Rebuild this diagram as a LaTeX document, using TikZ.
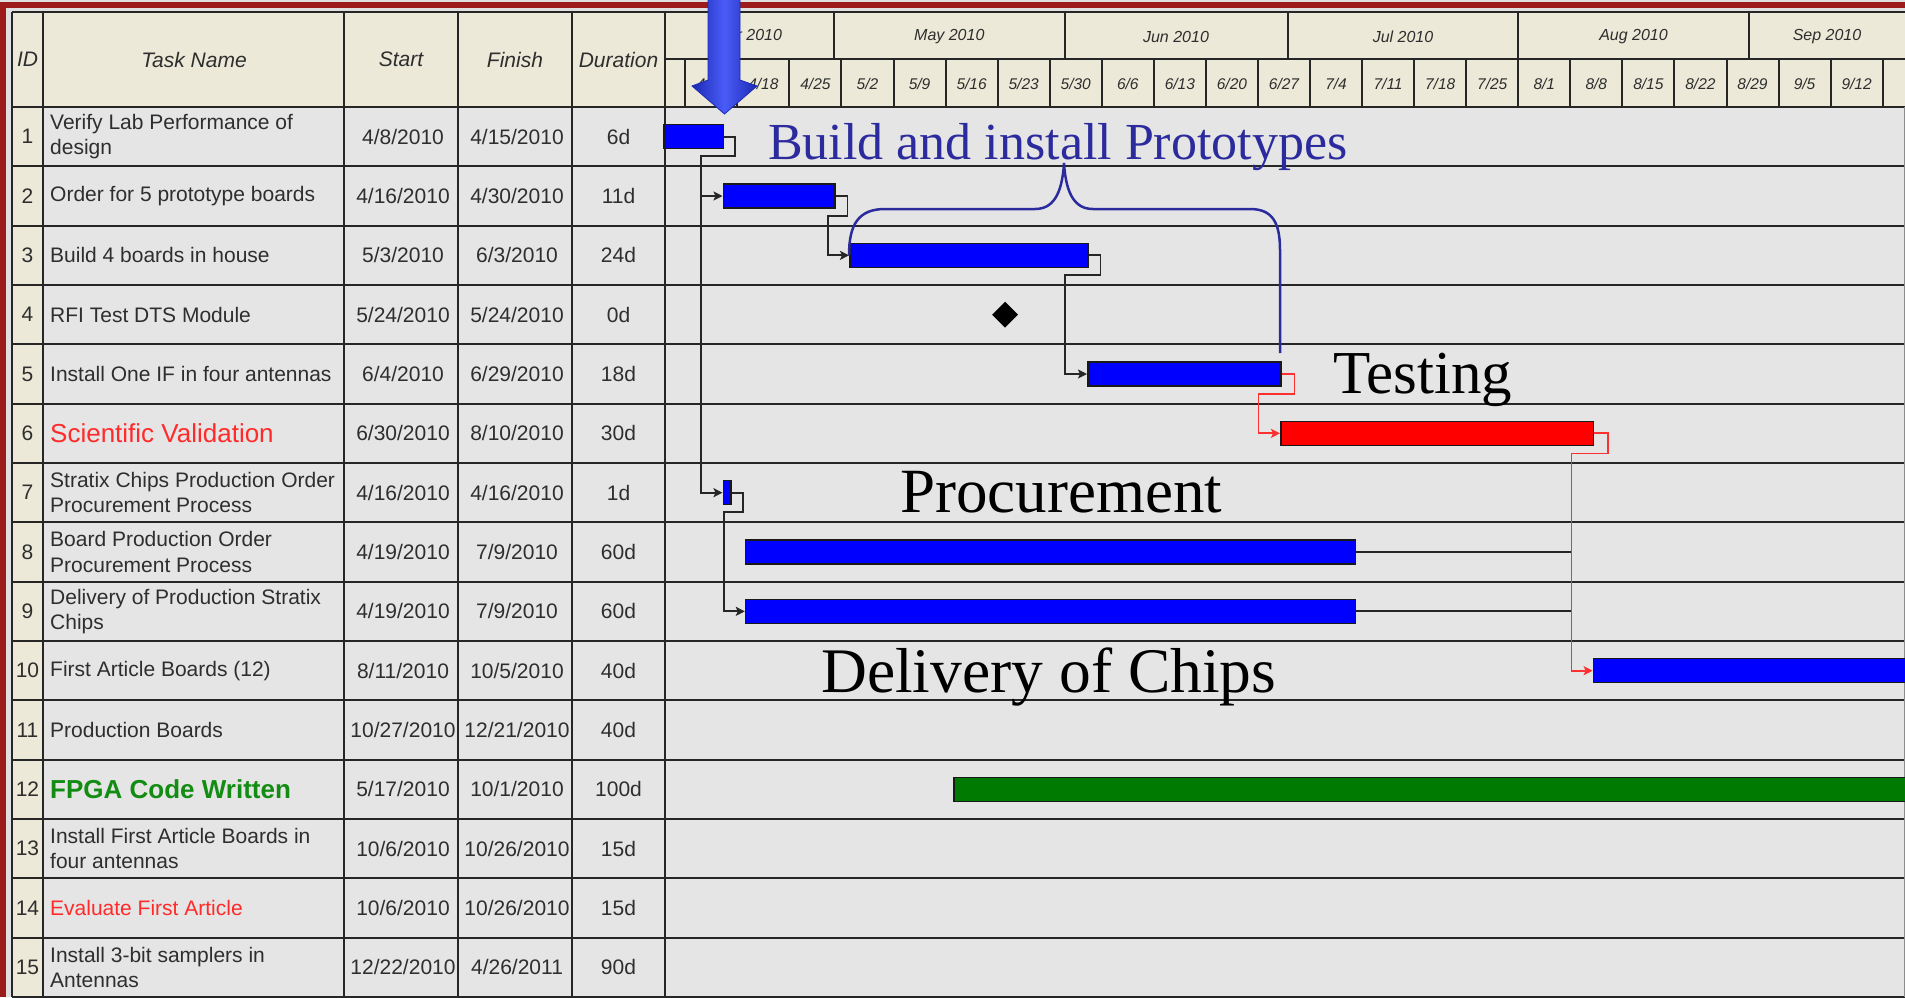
\documentclass[tikz,border=0pt]{standalone}
\usepackage{fontspec}
\newfontfamily\tabfont{Liberation Sans}
\newfontfamily\annfont{Liberation Serif}
\usetikzlibrary{shapes.geometric,arrows.meta}
\definecolor{hdrbg}{HTML}{ECE9D8}
\definecolor{rowbg}{HTML}{E5E5E5}
\definecolor{pagebg}{HTML}{E0E0E0}
\definecolor{gridc}{HTML}{262626}
\definecolor{txt}{HTML}{2E2E2E}
\definecolor{barblue}{HTML}{0000FF}
\definecolor{barred}{HTML}{FF0000}
\definecolor{bargreen}{HTML}{007A00}
\definecolor{navy}{HTML}{2B2B9E}
\definecolor{linkred}{HTML}{FF3030}
\definecolor{framered}{HTML}{9C1C1C}
\definecolor{namered}{HTML}{FF2A2A}
\definecolor{namegreen}{HTML}{128C12}
\definecolor{arrdark}{HTML}{1C2AB4}
\definecolor{arrlight}{HTML}{4A5CF8}

\newcommand{\taskrow}[6]{%
  \node[idtxt] (id#1) at (27.5,{107+(#1-0.5)*59.333}) {#1};
  \node[nametxt,#6] (nm#1) at (50,{107+(#1-0.5)*59.333}) {#2};
  \node[celltxt] (st#1) at (403,{107+(#1-0.5)*59.333}) {#3};
  \node[celltxt] (fi#1) at (517,{107+(#1-0.5)*59.333}) {#4};
  \node[celltxt] (du#1) at (618.5,{107+(#1-0.5)*59.333}) {#5};
}

\begin{document}
\begin{tikzpicture}[x=1pt,y=-1pt,
  gridline/.style={draw=gridc,line width=2pt},
  idtxt/.style={inner sep=0,font=\tabfont\fontsize{21}{25.5}\selectfont,text=txt},
  celltxt/.style={inner sep=0,font=\tabfont\fontsize{21}{25.5}\selectfont,text=txt},
  nametxt/.style={anchor=west,inner sep=0,align=left,font=\tabfont\fontsize{21}{25.5}\selectfont,text=txt},
  hdrtxt/.style={inner sep=0,font=\tabfont\itshape\fontsize{21}{25.5}\selectfont,text=txt},
  wktxt/.style={inner sep=0,font=\tabfont\itshape\fontsize{15.5}{18}\selectfont,text=txt},
  mthtxt/.style={inner sep=0,font=\tabfont\itshape\fontsize{16}{18}\selectfont,text=txt},
  ganttbar/.style={anchor=west,rectangle,draw=black!90,line width=1.5pt,minimum height=24pt,inner sep=0,fill=barblue},
  deplink/.style={draw=black!85,line width=1.8pt,-{Stealth[length=9pt,width=9pt,inset=2pt]}},
  redlink/.style={draw=linkred,line width=1.8pt,-{Stealth[length=9pt,width=9pt,inset=2pt]}},
  plainlink/.style={draw=black!85,line width=1.8pt},
  anntxt/.style={inner sep=0,anchor=base west}
]
\useasboundingbox (0,0) rectangle (1905,997);
% page and frame
\fill[pagebg] (0,0) rectangle (1905,997);
\fill[framered] (0,2) rectangle (1905,8);
\fill[framered] (0,2) rectangle (6,997);
% cell backgrounds
\fill[hdrbg] (12,12) rectangle (1905,107);
\fill[rowbg] (43,107) rectangle (1905,997);
\fill[hdrbg] (12,107) rectangle (43,997);
% grid
\draw[gridline] (12,12) -- (1905,12);
\foreach \k in {0,...,15} \draw[gridline] (12,{107+\k*59.333}) -- (1905,{107+\k*59.333});
\foreach \xx in {12,43,344,458,572,665} \draw[gridline] (\xx,12) -- (\xx,997);
\draw[gridline] (665,59) -- (1905,59);
\foreach \xx in {834,1064.6,1287.7,1518.3,1748.8} \draw[gridline] (\xx,12) -- (\xx,59);
\foreach \k in {0,...,23} \draw[gridline] ({685.3+\k*52.06},59) -- ({685.3+\k*52.06},107);
\draw[draw=black!45,line width=1pt] (1904,107) -- (1904,997);
% header texts
\node[hdrtxt] (hid) at (27.5,59.5) {ID};
\node[hdrtxt] (hname) at (194,59.5) {Task Name};
\node[hdrtxt] (hstart) at (401,59.5) {Start};
\node[hdrtxt] (hfinish) at (515,59.5) {Finish};
\node[hdrtxt] (hdur) at (618.5,59.5) {Duration};
\node[mthtxt] (mapr) at (749.5,36.5) {Apr 2010};
\node[mthtxt] (mmay) at (949.3,36.5) {May 2010};
\node[mthtxt] (mjun) at (1176,36.5) {Jun 2010};
\node[mthtxt] (mjul) at (1403,36.5) {Jul 2010};
\node[mthtxt] (maug) at (1633.5,36.5) {Aug 2010};
\node[mthtxt] (msep) at (1827,36.5) {Sep 2010};
\foreach \w [count=\k from 0] in {4/11,4/18,4/25,5/2,5/9,5/16,5/23,5/30,6/6,6/13,6/20,6/27,7/4,7/11,7/18,7/25,8/1,8/8,8/15,8/22,8/29,9/5,9/12}
  \node[wktxt] (wk\k) at ({711.3+\k*52.06},84) {\w};
% table rows
\taskrow{1}{Verify Lab Performance of\\design}{4/8/2010}{4/15/2010}{6d}{}
\taskrow{2}{Order for 5 prototype boards}{4/16/2010}{4/30/2010}{11d}{}
\taskrow{3}{Build 4 boards in house}{5/3/2010}{6/3/2010}{24d}{}
\taskrow{4}{RFI Test DTS Module}{5/24/2010}{5/24/2010}{0d}{}
\taskrow{5}{Install One IF in four antennas}{6/4/2010}{6/29/2010}{18d}{}
\taskrow{6}{Scientific Validation}{6/30/2010}{8/10/2010}{30d}{font=\tabfont\fontsize{26}{30}\selectfont,text=namered}
\taskrow{7}{Stratix Chips Production Order\\Procurement Process}{4/16/2010}{4/16/2010}{1d}{}
\taskrow{8}{Board Production Order\\Procurement Process}{4/19/2010}{7/9/2010}{60d}{}
\taskrow{9}{Delivery of Production Stratix\\Chips}{4/19/2010}{7/9/2010}{60d}{}
\taskrow{10}{First Article Boards (12)}{8/11/2010}{10/5/2010}{40d}{}
\taskrow{11}{Production Boards}{10/27/2010}{12/21/2010}{40d}{}
\taskrow{12}{FPGA Code Written}{5/17/2010}{10/1/2010}{100d}{font=\tabfont\bfseries\fontsize{26}{30}\selectfont,text=namegreen}
\taskrow{13}{Install First Article Boards in\\four antennas}{10/6/2010}{10/26/2010}{15d}{}
\taskrow{14}{Evaluate First Article}{10/6/2010}{10/26/2010}{15d}{text=namered}
\taskrow{15}{Install 3-bit samplers in\\Antennas}{12/22/2010}{4/26/2011}{90d}{}
% bars
\node[ganttbar,minimum width=59.5pt] (b1) at (663,136.67) {};
\node[ganttbar,minimum width=111.5pt] (b2) at (722.5,196) {};
\node[ganttbar,minimum width=238pt] (b3) at (849,255.33) {};
\node[diamond,aspect=1,fill=black,minimum width=26pt,minimum height=26pt,inner sep=0] (ms4) at (1005,314.67) {};
\node[ganttbar,minimum width=193pt] (b5) at (1087,374) {};
\node[ganttbar,minimum width=312.6pt,fill=barred] (b6) at (1280,433.33) {};
\node[ganttbar,minimum width=7.5pt] (b7) at (722.5,492.67) {};
\node[ganttbar,minimum width=610pt] (b8) at (744.8,552) {};
\node[ganttbar,minimum width=610pt] (b9) at (744.8,611.33) {};
\node[ganttbar,minimum width=330pt] (b10) at (1592.6,670.67) {};
\node[ganttbar,minimum width=970pt,fill=bargreen] (b12) at (953,789.33) {};
% links
\coordinate (j1) at (701,156);
\coordinate (j2) at (828,216);
\coordinate (j3) at (1065,275);
\coordinate (j5) at (1258.5,394);
\coordinate (j6) at (1571.4,453.5);
\coordinate (j7) at (723.7,512);
\draw[deplink] (b1.east) -- ++(11,0) |- (j1) |- (b2.west);
\draw[deplink] (j1) |- (b7.west);
\draw[deplink] (b2.east) -- ++(12,0) |- (j2) |- (b3.west);
\draw[deplink] (b3.east) -- ++(12,0) |- (j3) |- (b5.west);
\draw[deplink] (b7.east) -- ++(11.5,0) |- (j7) |- (b9.west);
\draw[redlink] (b5.east) -- ++(13,0) |- (j5) |- (b6.west);
\draw[redlink] (b6.east) -- ++(14,0) |- (j6) |- (b10.west);
\draw[plainlink] (b8.east) -- (b8.east -| j6);
\draw[plainlink] (b9.east) -- (b9.east -| j6);
% annotations
\coordinate (brtip) at (1064,163);
\coordinate (brend) at (1280,353);
\draw[navy,line width=2.5pt] (b3.west) .. controls (849,225) and (858,209) .. (885,209) -- (1035,209)
  .. controls (1052,209) and (1062,196) .. (brtip)
  .. controls (1066,196) and (1076,209) .. (1093,209) -- (1250,209)
  .. controls (1272,209) and (1280,222) .. (1280,250) -- (brend);
\node[anntxt,text=navy,font=\annfont\fontsize{52}{52}\selectfont] (tproto) at (768,159) {Build and install Prototypes};
\node[anntxt,text=black,font=\annfont\fontsize{61}{61}\selectfont] (ttest) at (1333,393) {Testing};
\node[anntxt,text=black,font=\annfont\fontsize{63}{63}\selectfont] (tproc) at (900,512.7) {Procurement};
\node[anntxt,text=black,font=\annfont\fontsize{63.5}{63.5}\selectfont] (tdeliv) at (821,692.7) {Delivery of Chips};
% big arrow
\shade[left color=arrdark,right color=arrdark,middle color=arrlight,draw=arrdark,line width=0.8pt]
  (708,-2) -- (740,-2) -- (740,80) -- (757,86) -- (724.5,114) -- (692,86) -- (708,80) -- cycle;
\end{tikzpicture}
\end{document}
